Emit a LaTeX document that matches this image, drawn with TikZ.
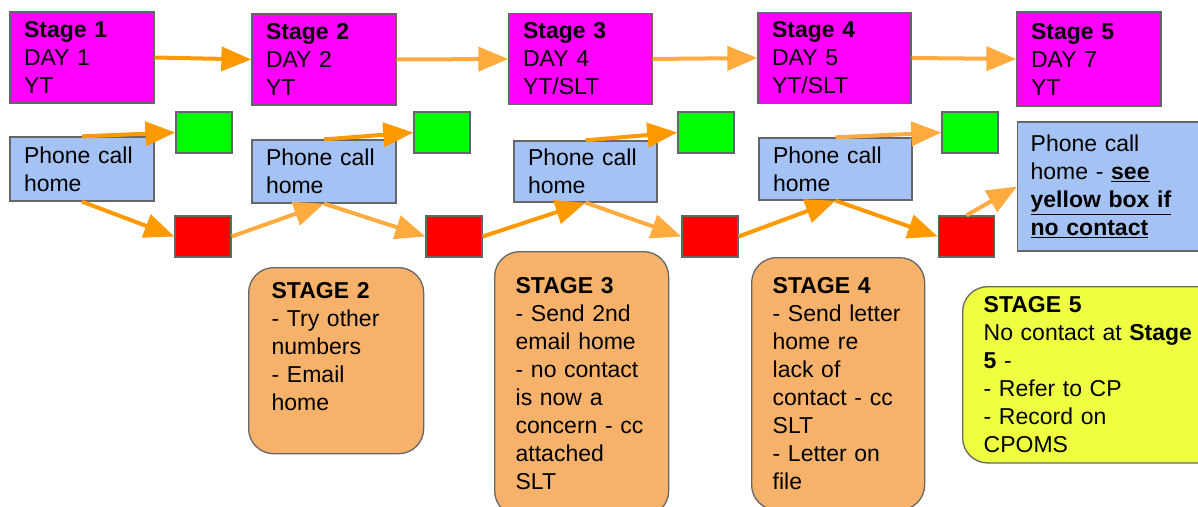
\documentclass[tikz,border=0pt]{standalone}
\usepackage{fontspec}
\setmainfont{Liberation Sans}
\usetikzlibrary{arrows.meta}
\definecolor{stagepink}{HTML}{FF00FF}
\definecolor{callblue}{HTML}{A4C2F4}
\definecolor{okgreen}{HTML}{00FF00}
\definecolor{failred}{HTML}{FF0000}
\definecolor{notetan}{HTML}{F6B26B}
\definecolor{noteyellow}{HTML}{EEFF41}
\definecolor{boxgray}{HTML}{666666}
\definecolor{flowdark}{HTML}{FF9900}
\definecolor{flowlight}{HTML}{FFAB40}
\begin{document}
\begin{tikzpicture}[x=1pt,y=-1pt,
    box/.style={draw=boxgray, line width=1.3pt, align=left, font=\fontsize{23}{28}\selectfont, inner xsep=14pt, inner ysep=0pt},
    stagebox/.style={box, fill=stagepink, minimum height=91pt},
    callbox/.style={box, fill=callblue},
    okbox/.style={draw=boxgray, line width=1.3pt, fill=okgreen, minimum width=56pt, minimum height=41pt, inner sep=0pt},
    failbox/.style={okbox, fill=failred},
    notebox/.style={box, fill=notetan, rounded corners=25pt, anchor=north west, inner xsep=21pt},
    darkflow/.style={draw=flowdark, line width=4pt, -{Triangle[length=30pt,width=24pt]}},
    lightflow/.style={darkflow, draw=flowlight}]
    \useasboundingbox (0,0) rectangle (1198,506);

    \node[stagebox, text width=116pt] (s1) at (82,57.5) {\textbf{Stage 1}\\DAY 1\\YT};
    \node[stagebox, text width=116pt] (s2) at (324,59.5) {\textbf{Stage 2}\\DAY 2\\YT};
    \node[stagebox, text width=115pt] (s3) at (580.5,59) {\textbf{Stage 3}\\DAY 4\\YT/SLT};
    \node[stagebox, text width=125pt] (s4) at (834.5,58) {\textbf{Stage 4}\\DAY 5\\YT/SLT};
    \node[stagebox, text width=116pt, minimum height=94pt] (s5) at (1089,59) {\textbf{Stage 5}\\DAY 7\\YT};

    \node[callbox, text width=116pt, minimum height=64pt] (c1) at (82,169) {Phone call\\home};
    \node[callbox, text width=116pt, minimum height=63pt] (c2) at (324,171.5) {Phone call\\home};
    \node[callbox, text width=115pt, minimum height=61pt] (c3) at (585.5,171.5) {Phone call\\home};
    \node[callbox, text width=125pt, minimum height=62pt] (c4) at (835.5,169) {Phone call\\home};
    \node[callbox, anchor=west, text width=162pt, inner xsep=13pt, minimum height=129pt] (c5) at (1017,186.5)
        {Phone call\\home - \textbf{\underline{see}}\\\textbf{\underline{yellow box if}}\\\textbf{\underline{no contact}}};

    \node[okbox] (g1) at (204,132.5) {};
    \node[okbox] (g2) at (442,132.5) {};
    \node[okbox] (g3) at (706,132.5) {};
    \node[okbox] (g4) at (970,132.5) {};

    \node[failbox] (r1) at (203,236.5) {};
    \node[failbox] (r2) at (454,236.5) {};
    \node[failbox] (r3) at (710,236.5) {};
    \node[failbox] (r4) at (966.5,236.5) {};

    \node[notebox, text width=129pt, inner xsep=23pt, inner ysep=15pt] (n2) at (248,267)
        {\textbf{STAGE 2}\\- Try other\\numbers\\- Email\\home\rule[-28pt]{0pt}{28pt}};
    \node[notebox, text width=132pt, inner ysep=26pt] (n3) at (494,251)
        {\textbf{STAGE 3}\\- Send 2nd\\email home\\- no contact\\is now a\\concern - cc\\attached\\SLT};
    \node[notebox, text width=131pt, inner ysep=20pt] (n4) at (751,257)
        {\textbf{STAGE 4}\\- Send letter\\home re\\lack of\\contact - cc\\SLT\\- Letter on\\file};
    \node[notebox, fill=noteyellow, text width=220pt, inner ysep=10pt] (n5) at (962,286)
        {\textbf{STAGE 5}\\No contact at \textbf{Stage}\\\textbf{5} -\\- Refer to CP\\- Record on\\CPOMS};

    \draw[darkflow] (s1.east) -- (s2.west);
    \draw[lightflow] (s2.east) -- (s3.west);
    \draw[lightflow] (s3.east) -- (s4.west);
    \draw[lightflow] (s4.east) -- (s5.west);

    \draw[darkflow] (c1.north) -- (g1.west);
    \draw[darkflow] (c2.north) -- (g2.west);
    \draw[darkflow] (c3.north) -- (g3.west);
    \draw[lightflow] (c4.north) -- (g4.west);

    \draw[darkflow] (c1.south) -- (r1.west);
    \draw[lightflow] (r1.east) -- (c2.south);
    \draw[lightflow] (c2.south) -- (r2.west);
    \draw[darkflow] (r2.east) -- (c3.south);
    \draw[lightflow] (c3.south) -- (r3.west);
    \draw[darkflow] (r3.east) -- (c4.south);
    \draw[darkflow] (c4.south) -- (r4.west);
    \draw[lightflow] (r4.north) -- (c5.west);
\end{tikzpicture}
\end{document}
